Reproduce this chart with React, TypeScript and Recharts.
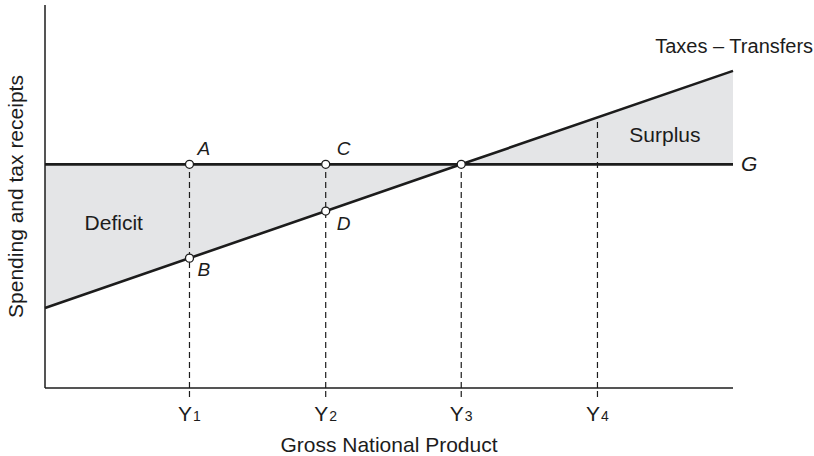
import React from "react"
import {
  ComposedChart,
  Area,
  Line,
  XAxis,
  YAxis,
  ReferenceLine,
  ReferenceDot,
  Label,
} from "recharts"

// GNP positions (0..100) where the curves are sampled
const gnpX = [0, 60.5, 100]
// government spending G (flat)
const govSpending = [58.4, 58.4, 58.4]
// taxes minus transfers
const netTaxes = [20.9, 58.4, 82.8]

// Y1..Y4 on the GNP axis
const gnpTicks = [21, 40.8, 60.5, 80.3]
const gnpTickNames = ["1", "2", "3", "4"]
// where each dashed guide stops
const guideTops = [58.4, 58.4, 58.4, 70.6]

// marked points A..D and the break-even point
const pointNames = ["A", "B", "C", "D", ""]
const pointX = [21, 21, 40.8, 40.8, 60.5]
const pointY = [58.4, 33.9, 58.4, 46.2, 58.4]

const INK = "#1c1c1c"
const FONT = "'Liberation Sans', Arial, Helvetica, sans-serif"

const data = gnpX.map((x, i) => ({
  x,
  g: govSpending[i],
  t: netTaxes[i],
  band: [Math.min(govSpending[i], netTaxes[i]), Math.max(govSpending[i], netTaxes[i])],
}))

// letter offsets next to each point (px)
const letterOffset: Record<string, [number, number]> = {
  A: [8, -9],
  B: [8, 18],
  C: [11, -9],
  D: [11, 19],
}

function textLabel(text: string, dx: number, dy: number, anchor = "start", italic = false, size = 21) {
  return (props: any) => {
    const vb = props.viewBox || {}
    const cx = (vb.x ?? 0) + (vb.width ?? 0) / 2
    const cy = (vb.y ?? 0) + (vb.height ?? 0) / 2
    return (
      <text
        x={cx + dx}
        y={cy + dy}
        textAnchor={anchor}
        fontFamily={FONT}
        fontSize={size}
        fontStyle={italic ? "italic" : "normal"}
        fill={INK}
      >
        {text}
      </text>
    )
  }
}

function GnpTick(props: any) {
  const { x, y, payload } = props
  const idx = gnpTicks.indexOf(payload.value)
  return (
    <text x={x} y={y + 22} textAnchor="middle" fontFamily={FONT} fontSize={21} fill={INK}>
      Y<tspan fontSize={14} dx={1}>{gnpTickNames[idx]}</tspan>
    </text>
  )
}

export default function App() {
  return (
    <div style={{ position: "fixed", left: 0, top: 0, background: "#fff" }}>
      <ComposedChart width={814} height={456} data={data} margin={{ top: 5, right: 81, bottom: 4, left: 0 }}>
        <XAxis
          type="number"
          dataKey="x"
          domain={[0, 100]}
          ticks={gnpTicks}
          interval={0}
          tick={<GnpTick />}
          tickSize={9}
          tickLine={{ stroke: INK, strokeDasharray: "6 4", strokeWidth: 1.2 }}
          axisLine={{ stroke: INK, strokeWidth: 1.5 }}
          height={64}
        >
          <Label value="Gross National Product" position="insideBottom" offset={0} fontFamily={FONT} fontSize={21} fill={INK} />
        </XAxis>
        <YAxis
          type="number"
          domain={[0, 100]}
          width={45}
          tick={false}
          tickLine={false}
          axisLine={{ stroke: INK, strokeWidth: 1.5 }}
        >
          <Label
            content={(props: any) => {
              const vb = props.viewBox
              const cx = 15
              const cy = vb.y + vb.height / 2
              return (
                <text
                  x={cx}
                  y={cy}
                  transform={`rotate(-90 ${cx} ${cy})`}
                  textAnchor="middle"
                  dominantBaseline="central"
                  fontFamily={FONT}
                  fontSize={21}
                  fill={INK}
                >
                  Spending and tax receipts
                </text>
              )
            }}
          />
        </YAxis>

        <Area
          type="linear"
          dataKey="band"
          stroke="none"
          fill="#e4e5e7"
          fillOpacity={1}
          isAnimationActive={false}
        />

        {gnpTicks.map((x, i) => (
          <ReferenceLine
            key={"guide" + i}
            segment={[
              { x, y: 0 },
              { x, y: guideTops[i] },
            ]}
            stroke={INK}
            strokeWidth={1.2}
            strokeDasharray="6 4"
          />
        ))}

        <Line type="linear" dataKey="g" stroke={INK} strokeWidth={2.6} dot={false} isAnimationActive={false} />
        <Line type="linear" dataKey="t" stroke={INK} strokeWidth={2.6} dot={false} isAnimationActive={false} />

        {pointX.map((x, i) => {
          const name = pointNames[i]
          const off = letterOffset[name]
          return (
            <ReferenceDot
              key={"pt" + i}
              x={x}
              y={pointY[i]}
              r={4}
              fill="#fff"
              stroke={INK}
              strokeWidth={1.3}
              label={off ? textLabel(name, off[0], off[1], "start", true, 19) : undefined}
            />
          )
        })}

        <ReferenceDot x={10} y={41.3} r={0} fill="none" stroke="none" label={textLabel("Deficit", 0, 0, "middle")} />
        <ReferenceDot x={90.1} y={64.2} r={0} fill="none" stroke="none" label={textLabel("Surplus", 0, 0, "middle")} />
        <ReferenceDot x={88.7} y={87.5} r={0} fill="none" stroke="none" label={textLabel("Taxes – Transfers", 0, 0, "start", false, 20)} />
        <ReferenceDot x={100} y={58.4} r={0} fill="none" stroke="none" label={textLabel("G", 8, 7, "start", true)} />
      </ComposedChart>
    </div>
  )
}
